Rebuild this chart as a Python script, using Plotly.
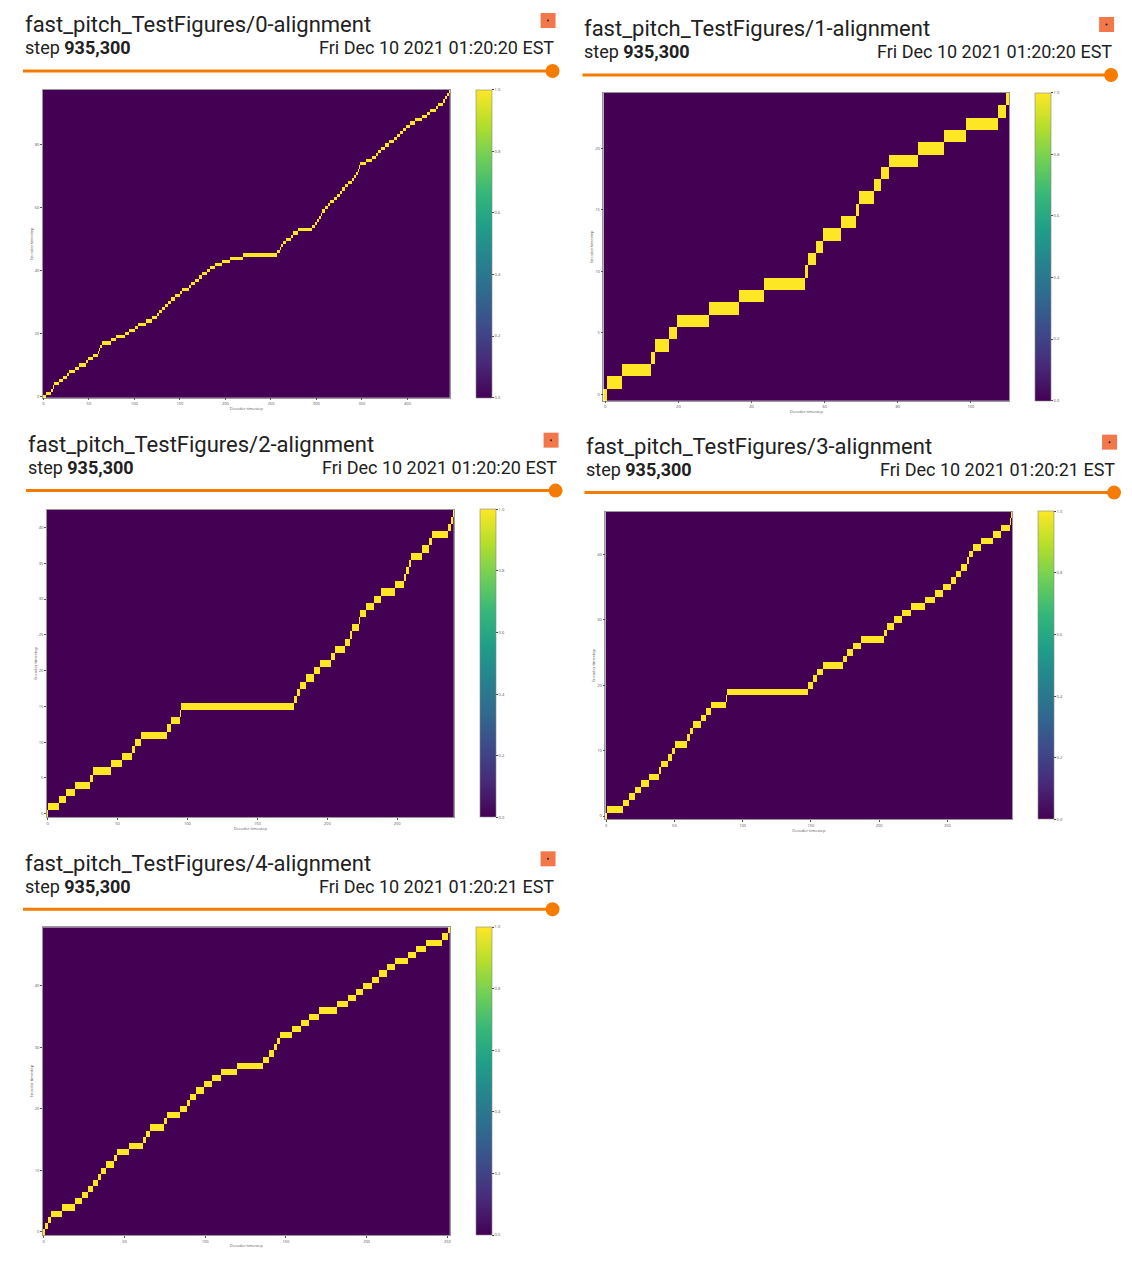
import numpy as np
import plotly.graph_objects as go

W, H = 1132, 1264
OFF = 8  # page margin offset

# encoder-token durations (decoder frames per encoder token), read from each alignment
durations_0 = [3,6,2,1,6,4,4,3,6,5, 7,3,5,5,2,1,2,10,5,10, 5,6,3,9,7,5,3,3,3,3,
               4,4,6,2,7,3,4,4,4,5, 4,5,8,9,14,37,3,2,2,3, 5,3,5,16,3,2,2,2,2,3,
               3,2,5,3,3,3,3,3,4,3, 2,2,1,1,7,6,5,2,3,5, 4,6,3,3,4,3,4,6,7,6,
               3,7,2,5,3,2,2,1]
durations_1 = [1,4,8,1,4,2,9,8,7,11,1,2,2,5,4,1,4,2,2,8,7,6,9,2,1]
durations_2 = [1,8,5,6,11,2,13,8,7,2,4,19,3,6,1,81,2,2,4,6,4,8,3,7,4,1,5,1,4,6,
               5,10,6,2,2,1,8,5,2,12,2,1,1]
durations_3 = [1,12,4,5,4,6,7,2,5,3,2,9,2,2,6,4,3,11,1,59,4,3,4,15,3,4,6,17,2,5,
               6,7,10,7,6,6,4,3,5,1,3,6,9,6,6,1,1]
durations_4 = [1,2,2,7,8,4,4,3,3,2,3,5,2,7,9,2,2,9,2,8,4,2,4,5,5,5,10,16,4,3,
               2,2,7,6,5,6,11,7,5,4,6,4,5,5,8,5,6,10,4,1]

titles = ["fast_pitch_TestFigures/0-alignment", "fast_pitch_TestFigures/1-alignment",
          "fast_pitch_TestFigures/2-alignment", "fast_pitch_TestFigures/3-alignment",
          "fast_pitch_TestFigures/4-alignment"]
step_label = "935,300"
dates = ["Fri Dec 10 2021 01:20:20 EST", "Fri Dec 10 2021 01:20:20 EST",
         "Fri Dec 10 2021 01:20:20 EST", "Fri Dec 10 2021 01:20:21 EST",
         "Fri Dec 10 2021 01:20:21 EST"]
x_dticks = [50, 20, 50, 50, 50]
y_dticks = [20, 5, 5, 10, 10]
cb_ticks = [0.0, 0.2, 0.4, 0.6, 0.8, 1.0]

all_durs = [durations_0, durations_1, durations_2, durations_3, durations_4]

# card layout in pixels: (card_left, title_y, line_right, plot_x0, plot_x1, plot_y0, plot_y1, cb_x0)
cards = [
    (22, 25, 553, 42, 450, 90, 398, 476),
    (583, 29, 1113, 604, 1011, 93, 401, 1037),
    (25, 445, 556, 46, 454, 510, 818, 480),
    (585, 447, 1116, 606, 1014, 512, 820, 1040),
    (22, 864, 553, 42, 450, 928, 1236, 476),
]

def px(x): return (x - OFF) / W
def py(y): return 1 - (y - OFF) / H

fig = go.Figure()
shapes, annots = [], []
for i, (d, c) in enumerate(zip(all_durs, cards)):
    cl, ty, lr, x0, x1, y0, y1, cb = c
    n_enc, n_dec = len(d), int(sum(d))
    z = np.zeros((n_enc, n_dec))
    s = 0
    for k, dd in enumerate(d):
        z[k, s:s + dd] = 1
        s += dd
    ax = "" if i == 0 else str(i + 1)
    fig.add_trace(go.Heatmap(
        z=z, colorscale="Viridis", zmin=0, zmax=1, xaxis="x" + ax, yaxis="y" + ax,
        hoverinfo="skip",
        colorbar=dict(x=px(cb), xanchor="left", y=py(y1), yanchor="bottom",
                      len=(y1 - y0) / H, lenmode="fraction", thickness=16,
                      thicknessmode="pixels", outlinewidth=0.6, outlinecolor="#888",
                      tickvals=cb_ticks, ticktext=[f"{t:.1f}" for t in cb_ticks],
                      ticks="outside", ticklen=2, tickfont=dict(size=4, color="#555"),
                      xpad=0, ypad=0)))
    common = dict(showgrid=False, zeroline=False, showline=True, mirror=True,
                  linecolor="#999", linewidth=0.6, ticks="outside", ticklen=2,
                  tickcolor="#555", tickfont=dict(size=4, color="#555"))
    fig.update_layout(**{
        "xaxis" + ax: dict(domain=[px(x0), px(x1)], anchor="y" + ax, range=[-0.5, n_dec - 0.5],
                           dtick=x_dticks[i], tick0=0,
                           title=dict(text="Decoder timestep", font=dict(size=4, color="#555"), standoff=1),
                           **common),
        "yaxis" + ax: dict(domain=[py(y1), py(y0)], anchor="x" + ax, range=[-0.5, n_enc - 0.5],
                           dtick=y_dticks[i], tick0=0,
                           title=dict(text="Encoder timestep", font=dict(size=4, color="#555"), standoff=1),
                           **common),
    })
    annots.append(dict(x=px(cl), y=py(ty), xref="paper", yref="paper", xanchor="left",
                       yanchor="middle", text=titles[i], showarrow=False,
                       font=dict(family="Roboto", size=22, color="#212121")))
    annots.append(dict(x=px(cl), y=py(ty + 23), xref="paper", yref="paper", xanchor="left",
                       yanchor="middle", text="step <b>" + step_label + "</b>", showarrow=False,
                       font=dict(family="Roboto", size=18, color="#212121")))
    annots.append(dict(x=px(lr + 3), y=py(ty + 23), xref="paper", yref="paper", xanchor="right",
                       yanchor="middle", text=dates[i], showarrow=False,
                       font=dict(family="Roboto", size=18, color="#212121")))
    ly = ty + 46
    shapes.append(dict(type="line", xref="paper", yref="paper", x0=px(cl), x1=px(lr),
                       y0=py(ly), y1=py(ly), line=dict(color="#f57c00", width=3)))
    shapes.append(dict(type="circle", xref="paper", yref="paper", x0=px(lr - 7), x1=px(lr + 7),
                       y0=py(ly + 7), y1=py(ly - 7), fillcolor="#f57c00", line=dict(width=0)))
    shapes.append(dict(type="rect", xref="paper", yref="paper", x0=px(lr - 12), x1=px(lr + 3),
                       y0=py(ty + 3), y1=py(ty - 12), fillcolor="#f2784b", line=dict(width=0)))
    shapes.append(dict(type="circle", xref="paper", yref="paper", x0=px(lr - 5.5), x1=px(lr - 3.5),
                       y0=py(ty - 3.5), y1=py(ty - 5.5), fillcolor="#222", line=dict(width=0)))

fig.update_layout(width=W, height=H, margin=dict(l=0, r=0, t=0, b=0),
                  paper_bgcolor="white", plot_bgcolor="white", showlegend=False,
                  shapes=shapes, annotations=annots)
fig.write_html("out.html")
